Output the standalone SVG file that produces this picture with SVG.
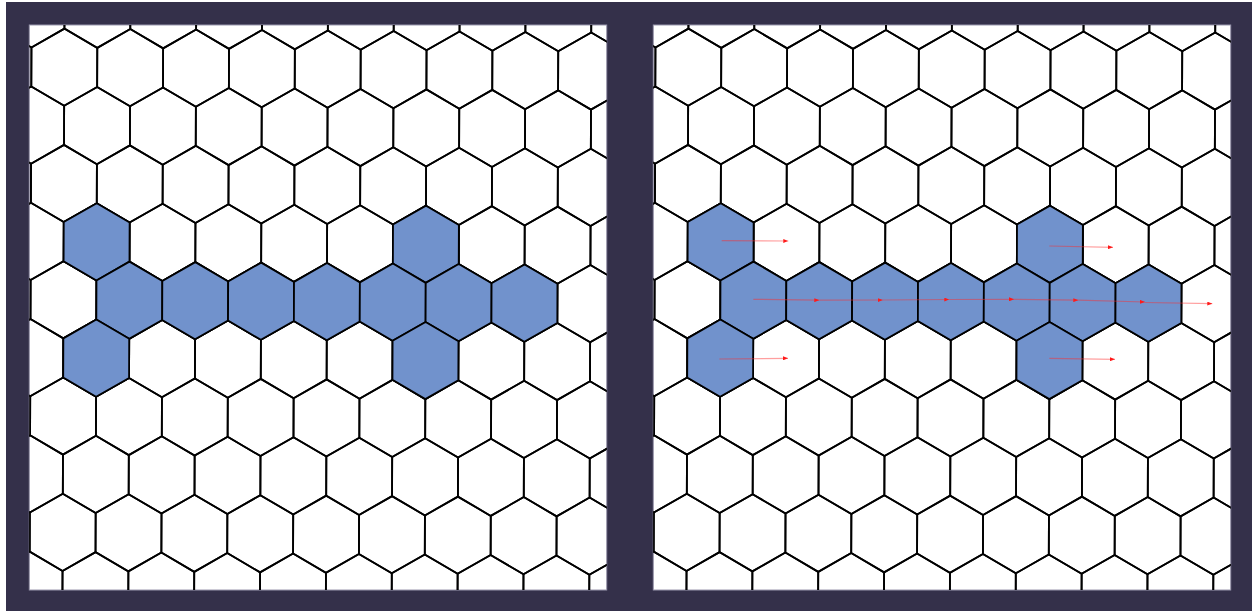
<svg xmlns="http://www.w3.org/2000/svg" xmlns:xlink="http://www.w3.org/1999/xlink" width="1252" height="611" viewBox="0 0 1252 611">
  <style>
    .hex { fill: none; stroke: #000; stroke-width: 1.8; stroke-linejoin: miter; }
    .hexb { fill: #7192cc; stroke: #000; stroke-width: 1.8; stroke-linejoin: miter; }
    .panel { fill: #fff; stroke: #9a97ad; stroke-width: 1; }
    .arrow { fill: none; stroke: #ff2a2a; stroke-opacity: 0.45; stroke-width: 1.2; marker-end: url(#head); }
  </style>
  <defs>
    <polygon id="hx" points="0,-38.6 32.93,-19.55 32.93,19.55 0,38.6 -32.93,19.55 -32.93,-19.55"/>
    <g id="rowE" class="hex">
      <use xlink:href="#hx" href="#hx" x="-131.7"/>
      <use xlink:href="#hx" href="#hx" x="-65.85"/>
      <use xlink:href="#hx" href="#hx" x="0"/>
      <use xlink:href="#hx" href="#hx" x="65.85"/>
      <use xlink:href="#hx" href="#hx" x="131.7"/>
      <use xlink:href="#hx" href="#hx" x="197.55"/>
      <use xlink:href="#hx" href="#hx" x="263.4"/>
      <use xlink:href="#hx" href="#hx" x="329.25"/>
      <use xlink:href="#hx" href="#hx" x="395.1"/>
      <use xlink:href="#hx" href="#hx" x="460.95"/>
      <use xlink:href="#hx" href="#hx" x="526.8"/>
      <use xlink:href="#hx" href="#hx" x="592.65"/>
    </g>
    <g id="rowPair">
      <use xlink:href="#rowE" href="#rowE"/>
      <use xlink:href="#rowE" href="#rowE" x="32.925" y="58.14"/>
    </g>
    <g id="grid">
      <use xlink:href="#rowPair" href="#rowPair" y="-116.28"/>
      <use xlink:href="#rowPair" href="#rowPair" y="0"/>
      <use xlink:href="#rowPair" href="#rowPair" y="116.28"/>
      <use xlink:href="#rowPair" href="#rowPair" y="232.56"/>
      <use xlink:href="#rowPair" href="#rowPair" y="348.84"/>
      <use xlink:href="#rowPair" href="#rowPair" y="465.12"/>
    </g>
    <g id="shape" class="hexb">
      <use xlink:href="#hx" href="#hx" x="32.93" y="174.42"/>
      <use xlink:href="#hx" href="#hx" x="362.18" y="174.42"/>
      <use xlink:href="#hx" href="#hx" x="65.85" y="232.56"/>
      <use xlink:href="#hx" href="#hx" x="131.7" y="232.56"/>
      <use xlink:href="#hx" href="#hx" x="197.55" y="232.56"/>
      <use xlink:href="#hx" href="#hx" x="263.4" y="232.56"/>
      <use xlink:href="#hx" href="#hx" x="329.25" y="232.56"/>
      <use xlink:href="#hx" href="#hx" x="395.1" y="232.56"/>
      <use xlink:href="#hx" href="#hx" x="460.95" y="232.56"/>
      <use xlink:href="#hx" href="#hx" x="32.93" y="290.7"/>
      <use xlink:href="#hx" href="#hx" x="362.18" y="290.7"/>
    </g>
    <clipPath id="clipPanel" clipPathUnits="userSpaceOnUse">
      <rect x="29.3" y="25" width="577.4" height="565"/>
    </clipPath>
    <marker id="head" markerUnits="userSpaceOnUse" viewBox="0 0 5 4" refX="5" refY="2" markerWidth="5" markerHeight="4" orient="auto">
      <path d="M0,0 L5,2 L0,4 z" fill="#ff1a1a"/>
    </marker>
  </defs>

  <rect x="0" y="0" width="1252" height="611" fill="#fff"/>
  <rect x="6" y="2" width="1246" height="609" fill="#34304a"/>

  <g id="panel-left">
    <rect class="panel" x="29.3" y="25" width="577.4" height="565"/>
    <g clip-path="url(#clipPanel)">
      <g transform="matrix(1,0.0073,-0.0035,1,64.3,67.2)">
        <use xlink:href="#grid" href="#grid"/>
        <use xlink:href="#shape" href="#shape"/>
      </g>
    </g>
  </g>

  <g id="panel-right" transform="translate(624,0)">
    <rect class="panel" x="29.3" y="25" width="577.4" height="565"/>
    <g clip-path="url(#clipPanel)">
      <g transform="matrix(1,0.0073,-0.0035,1,64.3,67.2)">
        <use xlink:href="#grid" href="#grid"/>
        <use xlink:href="#shape" href="#shape"/>
      </g>
    </g>
  </g>

  <g id="connectors">
    <line class="arrow" x1="721.7" y1="240.7" x2="788.3" y2="241"/>
    <line class="arrow" x1="1049.3" y1="246" x2="1113" y2="247.3"/>
    <line class="arrow" x1="719.3" y1="359" x2="788" y2="358.3"/>
    <line class="arrow" x1="1049.3" y1="358.3" x2="1115" y2="359.3"/>
    <line class="arrow" x1="753.3" y1="299.3" x2="819.3" y2="300.2"/>
    <line class="arrow" x1="819.3" y1="300.2" x2="882.7" y2="300"/>
    <line class="arrow" x1="882.7" y1="300" x2="949.3" y2="299.5"/>
    <line class="arrow" x1="949.3" y1="299.5" x2="1014" y2="299.3"/>
    <line class="arrow" x1="1014" y1="299.3" x2="1078.3" y2="300.2"/>
    <line class="arrow" x1="1078.3" y1="300.2" x2="1145" y2="302"/>
    <line class="arrow" x1="1145" y1="302.5" x2="1212.3" y2="303.7"/>
  </g>
</svg>
